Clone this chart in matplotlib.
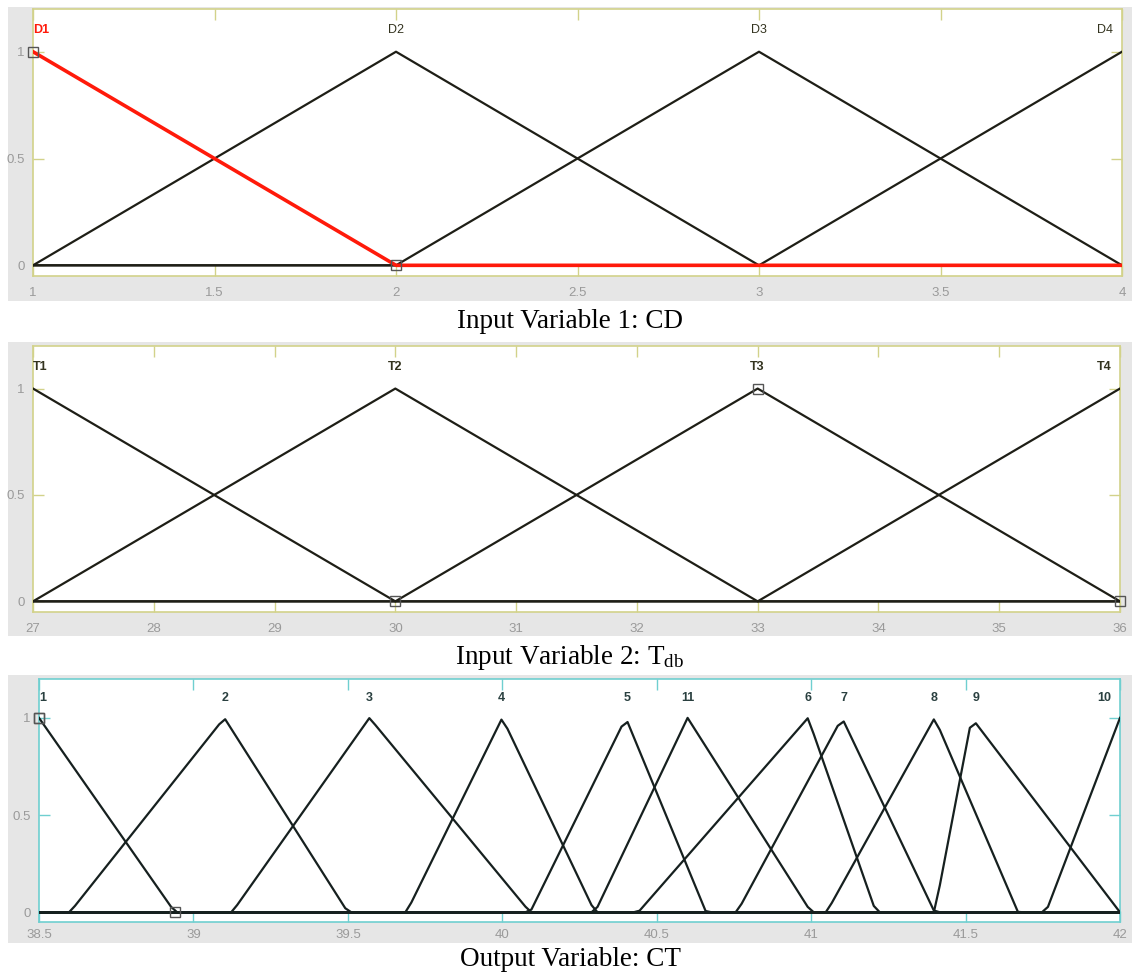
import numpy as np
import matplotlib
matplotlib.use("Agg")
import matplotlib.pyplot as plt
from matplotlib.patches import Rectangle

# ---------------- data ----------------
cd_names = ["D1", "D2", "D3", "D4"]
cd_params = [[0, 1, 2], [1, 2, 3], [2, 3, 4], [3, 4, 5]]
cd_range = [1, 4]
cd_ticks = [1, 1.5, 2, 2.5, 3, 3.5, 4]
cd_ticklabels = ["1", "1.5", "2", "2.5", "3", "3.5", "4"]

tdb_names = ["T1", "T2", "T3", "T4"]
tdb_params = [[24, 27, 30], [27, 30, 33], [30, 33, 36], [33, 36, 39]]
tdb_range = [27, 36]
tdb_ticks = [27, 28, 29, 30, 31, 32, 33, 34, 35, 36]
tdb_ticklabels = [str(t) for t in tdb_ticks]

ct_names = ["1", "2", "3", "4", "5", "11", "6", "7", "8", "9", "10"]
ct_params = [
    [38.5, 38.5, 38.94],
    [38.6, 39.1, 39.5],
    [39.125, 39.57, 40.09],
    [39.69, 40.0, 40.3],
    [40.09, 40.4, 40.66],
    [40.3, 40.6, 41.0],
    [40.44, 40.99, 41.21],
    [40.76, 41.1, 41.4],
    [41.05, 41.4, 41.67],
    [41.4, 41.52, 42.0],
    [41.76, 42.0, 42.0],
]
ct_range = [38.5, 42]
ct_ticks = [38.5, 39, 39.5, 40, 40.5, 41, 41.5, 42]
ct_ticklabels = ["38.5", "39", "39.5", "40", "40.5", "41", "41.5", "42"]

captions = ["Input Variable 1: CD",
            "Input Variable 2: T$_{\\mathrm{db}}$",
            "Output Variable: CT"]

# ---------------- style ----------------
plt.rcParams["mathtext.fontset"] = "custom"
plt.rcParams["mathtext.rm"] = "Liberation Serif"
plt.rcParams["mathtext.it"] = "Liberation Serif:italic"

W, H = 1132, 977
fig = plt.figure(figsize=(W / 100, H / 100), dpi=100)
fig.patch.set_facecolor("white")


def frac_rect(l, r, t, b):
    return [l / W, 1 - b / H, (r - l) / W, (b - t) / H]


def trimf(x, a, b, c):
    x = np.asarray(x, float)
    if b > a:
        up = (x - a) / (b - a)
    else:
        up = np.where(x >= a, 1.0, 0.0)
    if c > b:
        dn = (c - x) / (c - b)
    else:
        dn = np.where(x <= c, 1.0, 0.0)
    return np.clip(np.minimum(up, dn), 0, 1)


def panel(axpx, bgpx, xr, ticks, ticklabels, names, params, spine_col,
          line_col, label_col, sel, sel_red, bold_labels, xpad):
    fig.add_artist(Rectangle((bgpx[0] / W, 1 - bgpx[3] / H),
                             (bgpx[1] - bgpx[0]) / W, (bgpx[3] - bgpx[2]) / H,
                             transform=fig.transFigure, facecolor="#e6e6e6",
                             edgecolor="none", zorder=-5))
    ax = fig.add_axes(frac_rect(*axpx))
    ax.set_facecolor("white")
    x = np.linspace(xr[0], xr[1], 181)
    for i, (nm, p) in enumerate(zip(names, params)):
        y = trimf(x, *p)
        if i == sel and sel_red:
            continue
        ax.plot(x, y, color=line_col, lw=1.6, zorder=3, solid_joinstyle="round")
    if sel_red:
        y = trimf(x, *params[sel])
        ax.plot(x, y, color="#ff1a0a", lw=2.6, zorder=4)
    # vertex markers of the selected MF
    p = params[sel]
    vx = [v for v in p if xr[0] - 1e-9 <= v <= xr[1] + 1e-9]
    vy = [float(trimf([v], *p)[0]) if (v == p[1]) else 0.0 for v in vx]
    ax.plot(vx, vy, ls="none", marker="s", ms=7, mfc="none", mec="#555555",
            mew=1.0, zorder=5, clip_on=False)
    # labels
    for i, (nm, p) in enumerate(zip(names, params)):
        y = trimf(x, *p)
        xm = x[np.isclose(y, y.max())].mean()
        span = xr[1] - xr[0]
        if xm <= xr[0] + 0.01 * span:
            ha, xt = "left", xr[0]
        elif xm >= xr[1] - 0.01 * span:
            ha, xt = "right", xr[1] - 0.008 * span
        else:
            ha, xt = "center", xm
        col = "#ff1a0a" if (i == sel and sel_red) else label_col
        wt = "bold" if (bold_labels or (i == sel and sel_red)) else "normal"
        ax.text(xt, 1.1, nm, ha=ha, va="center", fontsize=9, color=col,
                fontweight=wt, family="Liberation Sans", zorder=6)
    ax.set_xlim(xr)
    ax.set_ylim(-0.05, 1.2)
    ax.set_xticks(ticks)
    ax.set_xticklabels(ticklabels)
    ax.set_yticks([0, 0.5, 1])
    ax.set_yticklabels(["0", "0.5", "1"])
    ax.tick_params(direction="in", length=8, width=1, color=spine_col,
                   labelcolor="#9a9a9a", labelsize=9.5, top=True, right=True)
    ax.tick_params(axis="x", pad=xpad)
    ax.tick_params(axis="y", pad=6)
    for lab in ax.get_xticklabels() + ax.get_yticklabels():
        lab.set_family("Liberation Sans")
    for s in ax.spines.values():
        s.set_color(spine_col)
        s.set_linewidth(1.2)
    return ax


yel = "#d2d28a"
cyan = "#6fcfd0"

panel((33, 1122, 9, 276), (8, 1132, 7, 301), cd_range, cd_ticks, cd_ticklabels,
      cd_names, cd_params, yel, "#1e1e16", "#33331f", 0, True, False, 8)
panel((33, 1120, 346, 612), (8, 1132, 342, 636), tdb_range, tdb_ticks,
      tdb_ticklabels, tdb_names, tdb_params, yel, "#1e1e16", "#33331f", 2,
      False, True, 8)
panel((39, 1120, 679, 922), (8, 1132, 675, 943), ct_range, ct_ticks,
      ct_ticklabels, ct_names, ct_params, cyan, "#16201f", "#2a4040", 0,
      False, True, 5)

for cap, yc in zip(captions, [322, 657, 959]):
    fig.text(570 / W, 1 - yc / H, cap, ha="center", va="center",
             fontsize=19.5, family="Liberation Serif", color="black")

fig.savefig("out.png", dpi=100, facecolor="white")
